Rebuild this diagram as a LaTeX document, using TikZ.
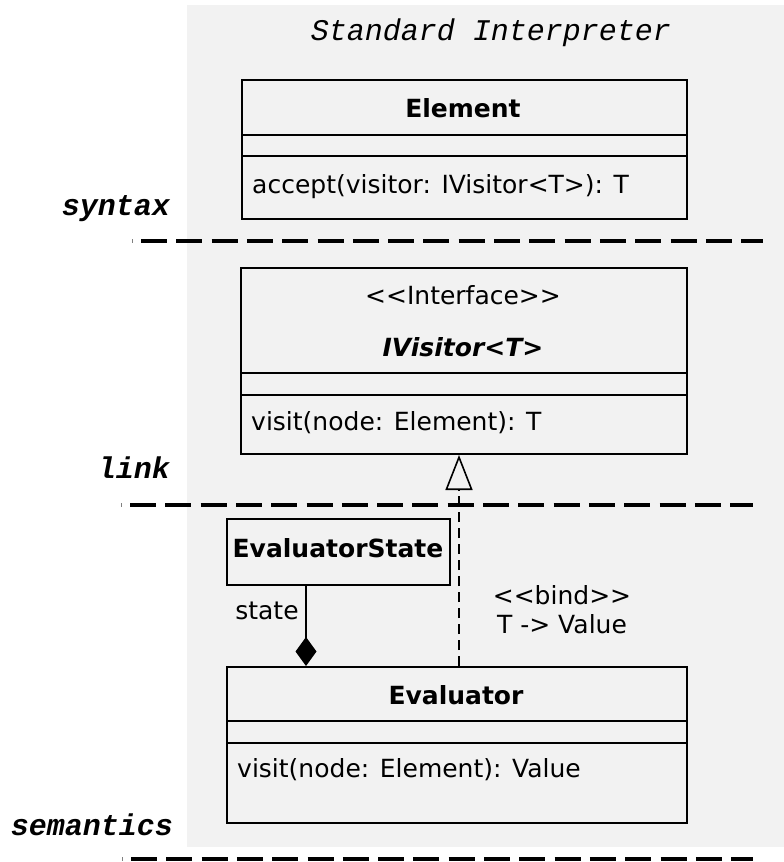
\documentclass[tikz,border=0pt]{standalone}
\usepackage{fontspec}
\setmainfont{DejaVu Sans}
\newfontfamily\monof{Liberation Mono}
\usetikzlibrary{arrows.meta}
\definecolor{bggray}{HTML}{F2F2F2}
\tikzset{
  umlbox/.style={draw=black, line width=2pt, anchor=north west, inner sep=0pt, fill=none},
  umltext/.style={font=\fontsize{25}{29}\selectfont, inner sep=0pt},
  umlbold/.style={font=\fontsize{25}{29}\selectfont\bfseries, inner sep=0pt},
  laneline/.style={line width=4.4pt, dash pattern=on 26pt off 9.3pt},
  lanetick/.style={line width=0.8pt, draw=gray},
  lanelabel/.style={font=\monof\bfseries\itshape\fontsize{30}{34}\selectfont, inner sep=0pt, anchor=east},
  compline/.style={line width=2pt},
}
\begin{document}
\begin{tikzpicture}[x=1pt,y=-1pt]
\useasboundingbox (0,0) rectangle (784,862);
\fill[bggray] (187,5) rectangle (784,847);
\node[font=\monof\itshape\fontsize{30}{34}\selectfont, inner sep=0pt] (title) at (491,33) {Standard Interpreter};

% Element
\node[umlbox, minimum width=445pt, minimum height=139pt] (el) at (241,79) {};
\draw[compline] (241,135) -- (686,135);
\draw[compline] (241,156) -- (686,156);
\node[umlbold] (elname) at (463,108) {Element};
\node[umltext, anchor=west] (elop) at (252,187) {accept(visitor: IVisitor<T>): T};

% IVisitor
\node[umlbox, minimum width=446pt, minimum height=186pt] (iv) at (240,267) {};
\draw[compline] (240,373) -- (686,373);
\draw[compline] (240,395) -- (686,395);
\node[umltext] (ivst) at (463,295) {<{}<Interface>{}>};
\node[umlbold, font=\fontsize{25}{29}\selectfont\bfseries\itshape] (ivname) at (463,347) {IVisitor<T>};
\node[umltext, anchor=west] (ivop) at (251,423) {visit(node: Element): T};

% EvaluatorState
\node[umlbox, minimum width=223pt, minimum height=66pt] (es) at (226,518) {};
\node[umlbold] (esname) at (338,548) {EvaluatorState};

% Evaluator
\node[umlbox, minimum width=460pt, minimum height=156pt] (ev) at (226,666) {};
\draw[compline] (226,721) -- (686,721);
\draw[compline] (226,743) -- (686,743);
\node[umlbold] (evname) at (456,695) {Evaluator};
\node[umltext, anchor=west] (evop) at (237,770) {visit(node: Element): Value};

% composition
\coordinate (cx) at (306,0);
\draw[line width=1.6pt, -{Diamond[length=29pt, width=21pt]}] (es.south -| cx) -- (ev.north -| cx);
\node[umltext] (statelbl) at (267,611) {state};

% realization
\coordinate (rx) at (459,0);
\draw[line width=1.5pt, dash pattern=on 10pt off 6pt, -{Triangle[open, length=35pt, width=27pt, line width=1.6pt]}] (ev.north -| rx) -- (iv.south -| rx);
\node[umltext, align=center, font=\fontsize{25}{29}\selectfont] (bind) at (562,610) {<{}<bind>{}>\\T -> Value};

% lanes
\node[lanelabel] (syn) at (170,209) {syntax};
\node[lanelabel] (lnk) at (170,468) {link};
\node[lanelabel] (sem) at (173,825) {semantics};
\draw[lanetick] (132,239) -- (132,243);
\draw[laneline] (141,241) -- (763,241);
\draw[lanetick] (121,503) -- (121,507);
\draw[laneline] (130,505) -- (753,505);
\draw[lanetick] (122,857) -- (122,861);
\draw[laneline] (131,859) -- (753,859);
\end{tikzpicture}
\end{document}
